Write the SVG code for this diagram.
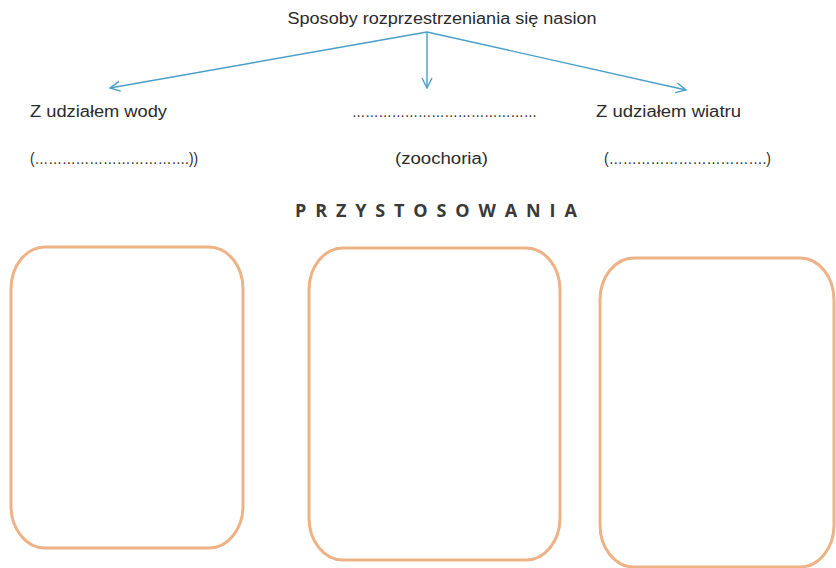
<svg xmlns="http://www.w3.org/2000/svg" width="836" height="568" viewBox="0 0 836 568">
<style>
.t{font-family:"Liberation Sans","Open Sans",sans-serif;font-size:16px;fill:#2b2b2b}
.h{font-family:"Open Sans","Liberation Sans",sans-serif;font-size:18px;font-weight:bold;fill:#3a3a3a;letter-spacing:5.2px}
.box{fill:none;stroke:#EDB386;stroke-width:3}
.c{fill:none;stroke:#4A9FC6;stroke-width:1.4}
</style>
<defs>
<marker id="ah" viewBox="0 0 12 12" refX="11" refY="6" markerWidth="12" markerHeight="12" markerUnits="userSpaceOnUse" orient="auto">
<path d="M1,1 L11,6 L1,11" fill="none" stroke="#4A9FC6" stroke-width="1.4"/>
</marker>
</defs>
<rect width="836" height="568" fill="#ffffff"/>
<g id="root"><text class="t" x="442" y="24" text-anchor="middle" textLength="309" lengthAdjust="spacingAndGlyphs">Sposoby rozprzestrzeniania się nasion</text></g>
<g id="connectors">
<line class="c" x1="427" y1="32" x2="110" y2="88" marker-end="url(#ah)"/>
<line class="c" x1="427" y1="32" x2="427" y2="88" marker-end="url(#ah)"/>
<line class="c" x1="427" y1="32" x2="686" y2="90" marker-end="url(#ah)"/>
</g>
<g id="woda">
<text class="t" x="30" y="117" textLength="137" lengthAdjust="spacingAndGlyphs">Z udziałem wody</text>
<text class="t" x="30" y="164" textLength="168" lengthAdjust="spacingAndGlyphs">(…………………………….))</text>
</g>
<g id="zwierzeta">
<text class="t" x="352" y="117" textLength="185" lengthAdjust="spacingAndGlyphs">……………………………………</text>
<text class="t" x="395" y="164" textLength="93" lengthAdjust="spacingAndGlyphs">(zoochoria)</text>
</g>
<g id="wiatr">
<text class="t" x="596" y="117" textLength="145" lengthAdjust="spacingAndGlyphs">Z udziałem wiatru</text>
<text class="t" x="604" y="164" textLength="167" lengthAdjust="spacingAndGlyphs">(…………………………….)</text>
</g>
<g id="naglowek"><text class="h" x="295" y="217" textLength="287">PRZYSTOSOWANIA</text></g>
<g id="box1"><rect class="box" x="11" y="247" width="232" height="301" rx="34" ry="42"/></g>
<g id="box2"><rect class="box" x="309" y="248" width="251" height="312" rx="34" ry="42"/></g>
<g id="box3"><rect class="box" x="600" y="258" width="234" height="309" rx="34" ry="42"/></g>
</svg>
